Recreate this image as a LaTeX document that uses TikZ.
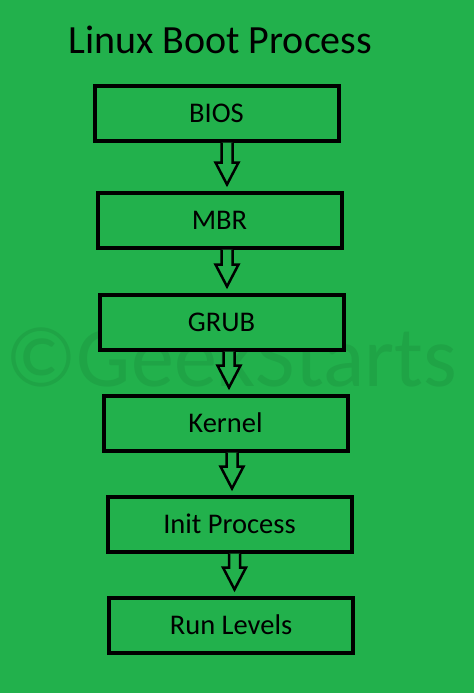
\documentclass[tikz,border=0pt]{standalone}
\usepackage{fontspec}
\setmainfont{Carlito}
\usetikzlibrary{calc}
\definecolor{bg}{HTML}{22B14C}
\definecolor{wm}{HTML}{1FA446}
\tikzset{
  stagebox/.style={draw=black, line width=4pt, fill=bg, minimum width=244pt, minimum height=55pt, inner sep=0pt, font=\fontsize{28.5}{32}\selectfont, text=black},
  arrowline/.style={draw=black, line width=2.5pt, fill=bg, line join=miter}
}
\newcommand\hollowarrow[3]{%
  \draw[arrowline] let \p1=(#1.south), \p2=(#2.north) in
    (\x1+#3-5.5, \y1) -- (\x1+#3-5.5, \y2+28) -- (\x1+#3-11.5, \y2+28) --
    (\x1+#3, \y2+6) -- (\x1+#3+11.5, \y2+28) -- (\x1+#3+5.5, \y2+28) --
    (\x1+#3+5.5, \y1);
}
\begin{document}
\begin{tikzpicture}[x=1pt, y=-1pt]
\fill[bg] (0,0) rectangle (474,693);
\useasboundingbox (0,0) rectangle (474,693);
\node[anchor=base west, text=wm, font=\fontsize{86}{86}\selectfont, inner sep=0pt] (wmark) at (5,386) {©GeekStarts};
\node[anchor=base west, inner sep=0pt, font=\fontsize{40}{44}\selectfont] (title) at (68,53) {Linux Boot Process};
\node[stagebox] (bios) at (216.5,113) {BIOS};
\node[stagebox] (mbr) at (219.5,220) {MBR};
\node[stagebox] (grub) at (221.5,322) {GRUB};
\node[stagebox] (kernel) at (225.5,423) {Kernel};
\node[stagebox] (init) at (229.5,524) {Init Process};
\node[stagebox] (run) at (231,625) {Run Levels};
\hollowarrow{bios}{mbr}{10.5}
\hollowarrow{mbr}{grub}{7.5}
\hollowarrow{grub}{kernel}{7.5}
\hollowarrow{kernel}{init}{6.5}
\hollowarrow{init}{run}{5}
\end{tikzpicture}
\end{document}
